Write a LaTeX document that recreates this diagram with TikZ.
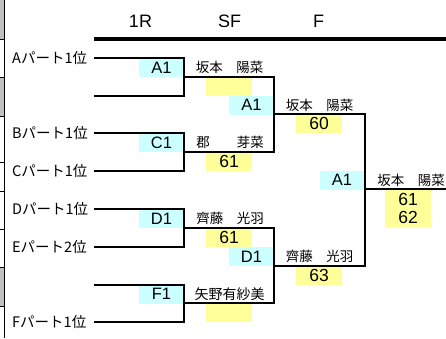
\documentclass[tikz,border=0pt]{standalone}
\usepackage{fontspec}
\setmainfont{Liberation Sans}
\newfontfamily\jp{Noto Sans CJK JP}
\definecolor{cy}{HTML}{CCFFFF}
\definecolor{yl}{HTML}{FFFF99}
\definecolor{gr}{HTML}{C0C0C0}
\begin{document}
\begin{tikzpicture}[x=1pt,y=-1pt,
  br/.style={line width=2.2pt, line join=miter},
  cbox/.style={fill=cy, inner sep=0pt, minimum width=45pt, minimum height=19pt, font=\fontsize{16.5}{18}\selectfont},
  ybox/.style={fill=yl, inner sep=0pt, minimum width=46pt, minimum height=19pt, font=\fontsize{17.5}{18}\selectfont},
  nm/.style={inner sep=0pt, font=\jp\fontsize{13.5}{15}\selectfont},
  lab/.style={inner sep=0pt, anchor=west, font=\jp\fontsize{14.5}{16}\selectfont},
  hd/.style={inner sep=0pt, font=\fontsize{18}{20}\selectfont},
  thin/.style={line width=1pt}]
\useasboundingbox (0,0) rectangle (446,338);
% left column
\fill[gr] (0,0) rectangle (4.5,39);
\fill[gr] (0,77) rectangle (4.5,116);
\fill[gr] (0,267) rectangle (4.5,306);
\foreach \yy in {39,77,116,162,191,229,267,306} \draw[thin] (0,\yy) -- (4.7,\yy);
\draw[line width=1.3pt] (4.7,0) -- (4.7,338);
% header
\node[hd] (h1r) at (140.5,21.5) {1R};
\node[hd] (hsf) at (229.5,21.5) {SF};
\node[hd] (hf) at (318.5,21.5) {F};
\coordinate (hl) at (94,39);
\coordinate (hr) at (446,39);
\draw[line width=3.5pt] (hl) -- (hr);
% boxes
\node[cbox] (w1) at (161.5,67.5) {A1};
\node[cbox] (w2) at (161.5,142.5) {C1};
\node[cbox] (w3) at (161.5,218.5) {D1};
\node[cbox] (w4) at (161.5,294) {F1};
\node[cbox] (s1) at (251.5,105) {A1};
\node[cbox] (s2) at (251.5,256.5) {D1};
\node[cbox] (fw) at (342,180) {A1};
\node[ybox] (y1) at (229,86.5) {};
\node[ybox] (y2) at (229,161.5) {61};
\node[ybox] (y3) at (229,237.5) {61};
\node[ybox] (y4) at (229,312.5) {};
\node[ybox] (y5) at (319,123.5) {60};
\node[ybox] (y6) at (319,275.5) {63};
\node[ybox, minimum height=38pt, align=center] (y7) at (408,208) {61\\62};
% bracket points
\coordinate (p1) at (94,58);
\coordinate (p2) at (94,96);
\coordinate (p3) at (94,133);
\coordinate (p4) at (94,171);
\coordinate (p5) at (94,209);
\coordinate (p6) at (94,247);
\coordinate (p7) at (94,285);
\coordinate (p8) at (94,322);
\coordinate (q1) at (184,77);
\coordinate (q2) at (184,152);
\coordinate (q3) at (184,228);
\coordinate (q4) at (184,303);
\coordinate (r1) at (274,114);
\coordinate (r2) at (274,266);
\coordinate (f) at (365,189);
\coordinate (fe) at (446,189);
\draw[br] (p1) -| (q1) |- (p2);
\draw[br] (p3) -| (q2) |- (p4);
\draw[br] (p5) -| (q3) |- (p6);
\draw[br] (p7) -| (q4) |- (p8);
\draw[br] (q1) -| (r1) |- (q2);
\draw[br] (q3) -| (r2) |- (q4);
\draw[br] (r1) -| (f) |- (r2);
\draw[br] (f) -- (fe);
% labels
\node[lab] (la) at (12,57.5) {Aパート1位};
\node[lab] (lb) at (12,133) {Bパート1位};
\node[lab] (lc) at (12,171) {Cパート1位};
\node[lab] (ld) at (12,209) {Dパート1位};
\node[lab] (le) at (12,247) {Eパート2位};
\node[lab] (lf) at (12,322) {Fパート1位};
% names
\node[nm] (n1) at (229.5,67) {坂本　陽菜};
\node[nm] (n2) at (230,142) {郡　　芽菜};
\node[nm] (n3) at (230,218) {齊藤　光羽};
\node[nm, font=\jp\fontsize{14}{15}\selectfont] (n4) at (229.5,294) {矢野有紗美};
\node[nm] (n5) at (319.5,105) {坂本　陽菜};
\node[nm] (n6) at (319.5,256) {齊藤　光羽};
\node[nm] (n7) at (411,180) {坂本　陽菜};
\end{tikzpicture}
\end{document}
